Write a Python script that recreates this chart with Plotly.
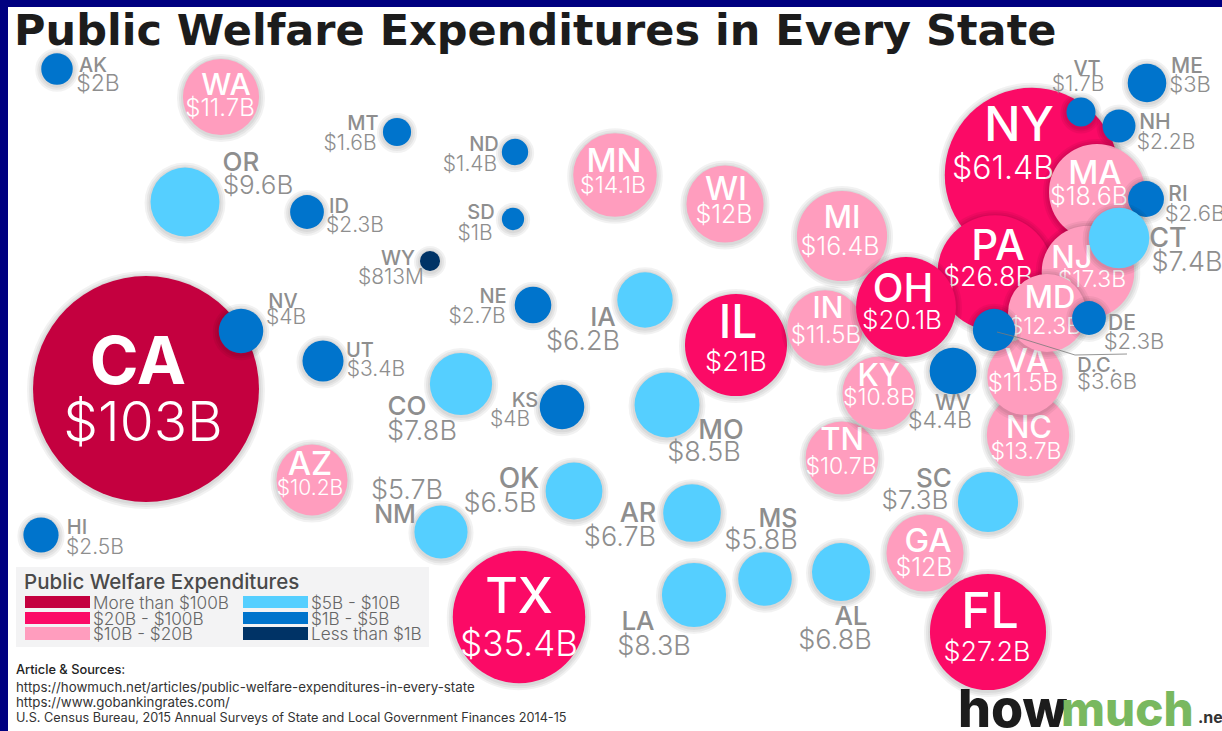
import plotly.graph_objects as go

# Back-to-front drawing order of the bubbles
STATES = ["CA","NV","WA","OR","AK","MT","ND","SD","WY","ID","UT","NE","IA","MN","WI","MI","IL","MO","KS","CO",
          "NM","AZ","HI","TX","OK","AR","LA","MS","AL","TN","IN","KY","NY","MA","PA","NJ","OH","WV","NC","VA",
          "MD","DC","DE","RI","CT","VT","NH","ME","SC","GA","FL"]
VALUES = [103,4,11.7,9.6,2,1.6,1.4,1,0.813,2.3,3.4,2.7,6.2,14.1,12,16.4,21,8.5,4,7.8,
          5.7,10.2,2.5,35.4,6.5,6.7,8.3,5.8,6.8,10.7,11.5,10.8,61.4,18.6,26.8,17.3,20.1,4.4,13.7,11.5,
          12.3,3.6,2.3,2.6,7.4,1.7,2.2,3,7.3,12,27.2]
VALUE_TEXT = ["$103B","$4B","$11.7B","$9.6B","$2B","$1.6B","$1.4B","$1B","$813M","$2.3B","$3.4B","$2.7B","$6.2B",
              "$14.1B","$12B","$16.4B","$21B","$8.5B","$4B","$7.8B","$5.7B","$10.2B","$2.5B","$35.4B","$6.5B","$6.7B",
              "$8.3B","$5.8B","$6.8B","$10.7B","$11.5B","$10.8B","$61.4B","$18.6B","$26.8B","$17.3B","$20.1B","$4.4B",
              "$13.7B","$11.5B","$12.3B","$3.6B","$2.3B","$2.6B","$7.4B","$1.7B","$2.2B","$3B","$7.3B","$12B","$27.2B"]
TIER_LABELS = ["More than $100B","$20B - $100B","$10B - $20B","$5B - $10B","$1B - $5B","Less than $1B"]
TIER_FLOORS = [100,20,10,5,1,0]
TITLE = "Public Welfare Expenditures in Every State"
LEGEND_TITLE = "Public Welfare Expenditures"
SOURCES = ["https://howmuch.net/articles/public-welfare-expenditures-in-every-state",
           "https://www.gobankingrates.com/",
           "U.S. Census Bureau, 2015 Annual Surveys of State and Local Government Finances 2014-15"]

# Styling and placement (page pixels, the chart is a packed cartogram)
TIER_COLORS = ["#C4003F","#FB0A66","#FF9DBE","#55CFFF","#0074CC","#003366"]
GREY = "#8e8e8e"
FONT = "Inter"
BUBBLE = dict(CA=(146,389),NV=(241,331),WA=(221,97),OR=(185,202),AK=(57,69),MT=(397,132),ND=(515,152),SD=(513,219),
    WY=(430,261),ID=(307,212),UT=(323,361),NE=(533,305),IA=(645,300),MN=(615,175),WI=(725,204),MI=(842,236),
    IL=(736,345),MO=(667,405),KS=(562,407),CO=(461,384),NM=(441,532),AZ=(312,480),HI=(41,535),TX=(519,617),
    OK=(574,491),AR=(692,513),LA=(694,595),MS=(765,579),AL=(841,572),TN=(842,458),IN=(825,328),KY=(879,393),
    NY=(1032,175),MA=(1097,192),PA=(995,273),NJ=(1088,272),OH=(906,307),WV=(953,371),NC=(1028,435),VA=(1025,377),
    MD=(1047,313),DC=(994,330),DE=(1089,318),RI=(1146,199),CT=(1119,238),VT=(1081,112),NH=(1119,126),ME=(1147,83),
    SC=(988,502),GA=(925,553),FL=(988,632))
CODE_POS = dict(CA=(138,361,66),NV=(283,301,20),WA=(226,84,30),OR=(241,162,26),AK=(93,65,20),MT=(363,123,20),
    ND=(484,144,20),SD=(481,212,20),WY=(398,258,20),ID=(339,206,20),UT=(360,350,20),NE=(493,296,20),IA=(603,317,26),
    MN=(614,160,33),WI=(726,188,33),MI=(842,217,31),IL=(738,322,46),MO=(721,430,27),KS=(525,400,20),CO=(407,406,26),
    NM=(395,514,25),AZ=(310,463,33),HI=(77,527,20),TX=(519,595,50),OK=(519,478,28),AR=(638,513,27),LA=(638,621,26),
    MS=(778,518,25),AL=(851,616,26),TN=(842,439,31),IN=(828,307,30),KY=(879,375,31),NY=(1019,124,48),MA=(1095,172,33),
    PA=(998,245,42),NJ=(1072,257,31),OH=(903,288,40),WV=(953,403,21),NC=(1029,427,31),VA=(1027,360,33),MD=(1050,297,31),
    DC=(1097,365,20),DE=(1122,323,21),RI=(1178,194,21),CT=(1168,238,27),VT=(1087,68,20),NH=(1155,122,21),ME=(1187,66,21),
    SC=(934,478,26),GA=(928,540,33),FL=(990,610,50))
VALUE_POS = dict(CA=(143,422,55),NV=(286,317,21),WA=(220,108,24),OR=(258,185,26),AK=(98,83,23),MT=(350,143,21),
    ND=(470,164,21),SD=(475,233,21),WY=(391,277,21),ID=(355,225,21),UT=(376,369,21),NE=(477,316,21),IA=(583,341,27),
    MN=(613,185,23),WI=(724,214,25),MI=(840,246,25),IL=(736,362,27),MO=(704,452,27),KS=(510,419,21),CO=(422,431,27),
    NM=(407,490,27),AZ=(310,488,21),HI=(95,547,21),TX=(519,644,35),OK=(500,503,27),AR=(620,537,27),LA=(654,646,27),
    MS=(761,540,27),AL=(835,640,27),TN=(841,466,23),IN=(826,335,24),KY=(879,397,23),NY=(1003,168,32),MA=(1089,196,25),
    PA=(988,277,27),NJ=(1092,279,23),OH=(902,320,26),WV=(940,420,23),NC=(1026,451,23),VA=(1023,383,24),MD=(1045,326,23),
    DC=(1107,381,22),DE=(1134,341,22),RI=(1195,213,22),CT=(1187,262,27),VT=(1078,84,21),NH=(1166,142,21),ME=(1190,84,22),
    SC=(915,500,26),GA=(924,567,25),FL=(987,652,27))
WHITE_TEXT_FROM = 10
CA_DIAMETER = 226
SIZEREF = 2 * max(VALUES) / CA_DIAMETER ** 2
SWATCH_X = [(25,90),(243,308)]
SWATCH_Y = [(596,608),(612,624),(627,640)]
BASELINE_NUDGE = 0.1  # Inter sits high in its line box; fraction of the font size

def tier_of(v):
    return next(i for i, floor in enumerate(TIER_FLOORS) if v >= floor)

fig = go.Figure()
for st, val, txt in zip(STATES, VALUES, VALUE_TEXT):
    cx, cy = BUBBLE[st]
    tier = tier_of(val)
    for grow in (12, 8, 4):
        fig.add_trace(go.Scatter(x=[cx], y=[cy + 1], mode="markers", hoverinfo="skip", marker=dict(
            size=[val], sizemode="area", sizeref=SIZEREF, color="rgba(0,0,0,0)", opacity=1,
            line=dict(width=grow, color="rgba(0,0,0,0.05)"))))
    fig.add_trace(go.Scatter(x=[cx], y=[cy], mode="markers", name=st, marker=dict(
        size=[val], sizemode="area", sizeref=SIZEREF, color=TIER_COLORS[tier], opacity=1, line=dict(width=0))))
    color = "#ffffff" if val >= WHITE_TEXT_FROM else GREY
    c, v = CODE_POS[st], VALUE_POS[st]
    fig.add_trace(go.Scatter(x=[c[0], v[0]], y=[c[1] + BASELINE_NUDGE * c[2], v[1] + BASELINE_NUDGE * v[2]],
        text=[st.replace("DC", "D.C."), txt], mode="text", textposition="middle center", hoverinfo="skip",
        textfont=dict(family=FONT, size=[c[2], v[2]], color=color, weight=[700 if st == "CA" else 500, 300])))

shapes = [
    dict(type="rect", x0=8, x1=1222, y0=7, y1=731, fillcolor="#ffffff", line_width=0, layer="below"),
    dict(type="rect", x0=16, x1=429, y0=567, y1=647, fillcolor="#f3f3f4", line_width=0, layer="below"),
    dict(type="path", path="M997,332 L1020,338 L1075,355 L1127,354", line=dict(color="#7a7a7a", width=0.8)),
]
anns = []
for i, (label, col) in enumerate(zip(TIER_LABELS, TIER_COLORS)):
    x0, x1 = SWATCH_X[i // 3]
    y0, y1 = SWATCH_Y[i % 3]
    shapes.append(dict(type="rect", x0=x0, x1=x1, y0=y0, y1=y1, fillcolor=col, line_width=0))
    anns.append(dict(x=x1 + 1, y=(y0 + y1) / 2, text=label, xanchor="left", yanchor="middle", showarrow=False,
                     font=dict(family=FONT, size=17.2, color="#666666", weight=300)))
anns.append(dict(x=22, y=581, text=LEGEND_TITLE, xanchor="left", yanchor="middle", showarrow=False,
                 font=dict(family=FONT, size=20.5, color="#4a4a4a", weight=500)))
anns.append(dict(x=14, y=669, text="Article & Sources:", xanchor="left", yanchor="middle", showarrow=False,
                 font=dict(family=FONT, size=12.8, color="#222222", weight=500)))
for line, y, size in zip(SOURCES, (687, 702, 717), (13.3, 13.3, 12.7)):
    anns.append(dict(x=14, y=y, text=line, xanchor="left", yanchor="middle", showarrow=False,
                     font=dict(family=FONT, size=size, color="#333333")))
for word, x, col, size in (("how", 956, "#1c1c1c", 52), ("much", 1059, "#79B85F", 47.5)):
    anns.append(dict(x=x, y=708, text=word, xanchor="left", yanchor="middle", showarrow=False,
                     font=dict(family=FONT, size=size, color=col, weight=800)))
anns.append(dict(x=1196, y=717, text=".net", xanchor="left", yanchor="middle", showarrow=False,
                 font=dict(family=FONT, size=16, color="#333333", weight=700)))

fig.update_layout(
    width=1222, height=731, margin=dict(l=0, r=0, t=0, b=0), showlegend=False,
    paper_bgcolor="#000080", plot_bgcolor="rgba(0,0,0,0)",
    xaxis=dict(range=[0, 1222], visible=False, fixedrange=True),
    yaxis=dict(range=[731, 0], visible=False, fixedrange=True),
    title=dict(text=TITLE, x=14 / 1222, xanchor="left", y=1 - 30 / 731, yanchor="middle", pad=dict(l=0, t=0, b=0),
               font=dict(family="DejaVu Sans", size=43, color="#1c1c1c", weight=700)),
    shapes=shapes, annotations=anns,
)
fig.write_html("out.html", config={"displayModeBar": False}, post_script="document.body.style.margin='0';")
